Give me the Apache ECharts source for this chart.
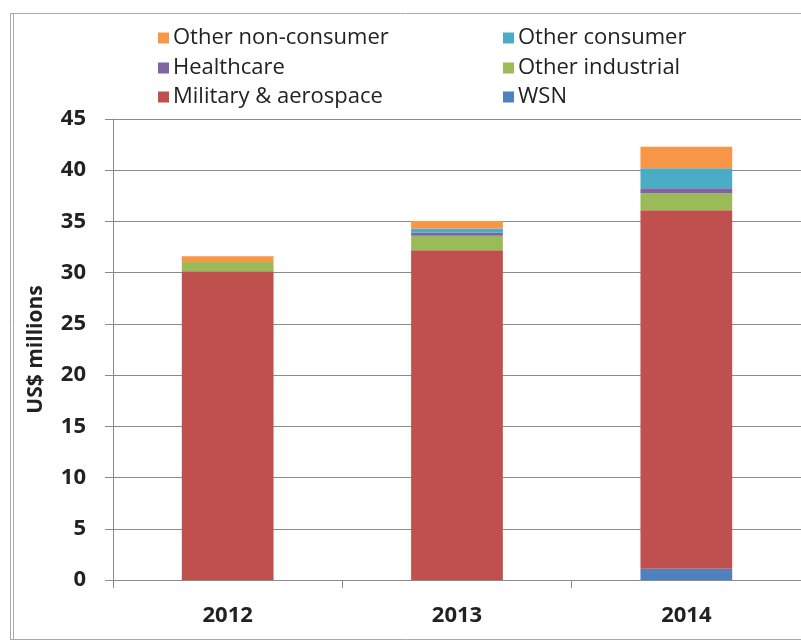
<!DOCTYPE html>
<html>
<head>
<meta charset="utf-8">
<script src="https://cdn.jsdelivr.net/npm/echarts@6/dist/echarts.min.js"></script>
<style>html,body{margin:0;padding:0;background:#fff}#c{width:801px;height:642px}</style>
</head>
<body>
<div id="c"></div>
<script>
const categories = ['2012', '2013', '2014'];
const wsn = [0, 0, 1.1];
const military = [30.15, 32.2, 35.0];
const otherIndustrial = [0.9, 1.4, 1.65];
const healthcare = [0, 0.3, 0.5];
const otherConsumer = [0, 0.4, 1.95];
const otherNonConsumer = [0.55, 0.75, 2.1];
const yTicks = [0, 5, 10, 15, 20, 25, 30, 35, 40, 45];

const seriesDefs = [
  ['WSN', wsn, '#4F81BD'],
  ['Military & aerospace', military, '#C0504D'],
  ['Other industrial', otherIndustrial, '#9BBB59'],
  ['Healthcare', healthcare, '#8064A2'],
  ['Other consumer', otherConsumer, '#4BACC6'],
  ['Other non-consumer', otherNonConsumer, '#F79646']
];

const legendPos = {
  'Other non-consumer': [158, 27],
  'Other consumer': [503, 27],
  'Healthcare': [158, 57],
  'Other industrial': [503, 57],
  'Military & aerospace': [158, 86],
  'WSN': [503, 86]
};

const font = '"Open Sans", "Liberation Sans", sans-serif';
const chart = echarts.init(document.getElementById('c'), null, {renderer: 'canvas'});
chart.setOption({
  animation: false,
  backgroundColor: '#fff',
  legend: Object.keys(legendPos).map(n => ({
    data: [n],
    left: legendPos[n][0],
    top: legendPos[n][1],
    itemWidth: 11,
    itemHeight: 11,
    icon: 'rect',
    padding: 0,
    textStyle: {fontFamily: font, fontSize: 22, color: '#222', padding: [0, 0, 0, -1]}
  })),
  grid: {left: 113, top: 119, width: 696, height: 461},
  xAxis: {
    type: 'category',
    data: categories,
    axisLine: {lineStyle: {color: '#8a8a8a', width: 1}},
    axisTick: {show: true, length: 8, lineStyle: {color: '#8a8a8a'}},
    axisLabel: {fontFamily: font, fontWeight: 'bold', fontSize: 22, color: '#222', margin: 25}
  },
  yAxis: {
    type: 'value',
    min: 0, max: 45, interval: 5,
    name: 'US$ millions',
    nameLocation: 'middle',
    nameGap: 66,
    nameTextStyle: {fontFamily: font, fontWeight: 'bold', fontSize: 21, color: '#222'},
    axisLine: {show: true, lineStyle: {color: '#8a8a8a', width: 1}},
    axisTick: {show: true, length: 8, inside: false, lineStyle: {color: '#8a8a8a'}},
    axisLabel: {fontFamily: font, fontWeight: 'bold', fontSize: 22, color: '#222', margin: 27,
      formatter: v => yTicks.indexOf(v) >= 0 ? String(v) : ''},
    splitLine: {show: true, lineStyle: {color: '#8a8a8a', width: 1}}
  },
  series: seriesDefs.map(([name, data, color]) => ({
    name, type: 'bar', stack: 'total', data,
    barWidth: '40%',
    itemStyle: {color},
    emphasis: {disabled: true}
  })),
  graphic: [
    {type: 'line', shape: {x1: 10.5, y1: 13, x2: 10.5, y2: 640}, style: {stroke: '#aaa', lineWidth: 1}},
    {type: 'line', shape: {x1: 13.5, y1: 13, x2: 13.5, y2: 640}, style: {stroke: '#aaa', lineWidth: 1}},
    {type: 'line', shape: {x1: 10, y1: 13.5, x2: 801, y2: 13.5}, style: {stroke: '#aaa', lineWidth: 1}},
    {type: 'line', shape: {x1: 10, y1: 639.5, x2: 801, y2: 639.5}, style: {stroke: '#aaa', lineWidth: 1}}
  ]
});
</script>
</body>
</html>
